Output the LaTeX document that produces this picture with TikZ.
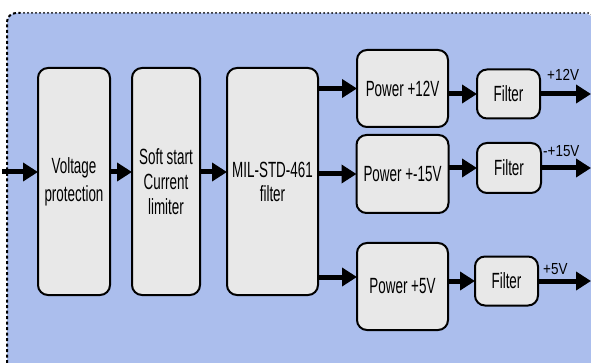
\documentclass[tikz,border=0pt]{standalone}
\usepackage{fontspec}
\usepackage{tikz}
\usetikzlibrary{calc}
\usetikzlibrary{arrows.meta}

\newfontfamily\boxfont[FakeStretch=0.61]{Liberation Sans}
\newfontfamily\lblfont[FakeStretch=0.84]{Liberation Sans}
\definecolor{panel}{RGB}{171,190,237}
\definecolor{boxgray}{RGB}{232,232,232}

\begin{document}
\begin{tikzpicture}[x=1pt, y=-1pt,
    block/.style={draw=black, line width=2pt, fill=boxgray, rounded corners=10pt,
        inner sep=0pt, outer sep=0pt, align=center,
        font=\boxfont\fontsize{22}{25}\selectfont},
    flow/.style={line width=5pt, -{Triangle[length=15pt,width=18pt]}},
    lbl/.style={anchor=base west, inner sep=0pt, font=\lblfont\fontsize{16}{18}\selectfont}]

        % panel
        \useasboundingbox (0,0) rectangle (591,363);
        \begin{scope}
            \clip (0,0) rectangle (591,363);
            \fill[panel, rounded corners=9pt] (7,13) rectangle (593,400);
            \draw[line width=2pt, dash pattern=on 3pt off 2.5pt, rounded corners=9pt]
                (7,363) -- (7,13) -- (20,13);
            \draw[line width=2pt, line cap=round, dash pattern=on 0pt off 4pt, rounded corners=5pt]
                (20,13) -- (593,13) -- (593,40);
        \end{scope}

        % main chain
        \node[block, minimum width=72, minimum height=227, font=\boxfont\fontsize{22}{28}\selectfont]
            (volt) at (74,181.5) {Voltage\\protection};
        \node[block, minimum width=68, minimum height=227] (soft) at (166,181.5) {Soft start\\Current\\limiter};
        \node[block, minimum width=91, minimum height=227, font=\boxfont\fontsize{22}{24}\selectfont]
            (mil) at (272.5,181.5) {MIL-STD-461\\filter};

        % power stages
        \node[block, minimum width=91, minimum height=77] (p12) at (402.5,88.5) {Power +12V};
        \node[block, minimum width=92, minimum height=78] (p15) at (402.5,174) {Power +-15V};
        \node[block, minimum width=91, minimum height=87] (p5) at (402.5,286.5) {Power +5V};

        % output filters
        \node[block, minimum width=63, minimum height=49] (f12) at (508.5,94) {Filter};
        \node[block, minimum width=64, minimum height=50] (f15) at (509,168) {Filter};
        \node[block, minimum width=63, minimum height=49] (f5) at (506.5,281) {Filter};

        % free ends
        \coordinate (in) at (2,172);
        \coordinate (out) at (591,0);

        % arrows
        \draw[flow] (in) -- (in -| volt.west);
        \draw[flow] (in -| volt.east) -- (in -| soft.west);
        \draw[flow] (in -| soft.east) -- (in -| mil.west);
        \draw[flow] (p12.west -| mil.east) -- (p12.west);
        \draw[flow] (p15.west -| mil.east) -- (p15.west);
        \draw[flow] ([yshift=9.5pt]p5.west -| mil.east) -- ([yshift=9.5pt]p5.west);
        \draw[flow] (f12.west -| p12.east) -- (f12.west);
        \draw[flow] (f15.west -| p15.east) -- (f15.west);
        \draw[flow] (f5.west -| p5.east) -- (f5.west);
        \draw[flow] (f12.east) -- (f12.east -| out);
        \draw[flow] (f15.east) -- (f15.east -| out);
        \draw[flow] (f5.east) -- (f5.east -| out);

        % output labels
        \node[lbl] (l12) at ([shift={(7pt,13pt)}]f12.east) {+12V};
        \node[lbl] (l15) at ([shift={(2pt,11pt)}]f15.east) {-+15V};
        \node[lbl] (l5) at ([shift={(5pt,7pt)}]f5.east) {+5V};

\end{tikzpicture}
\end{document}
